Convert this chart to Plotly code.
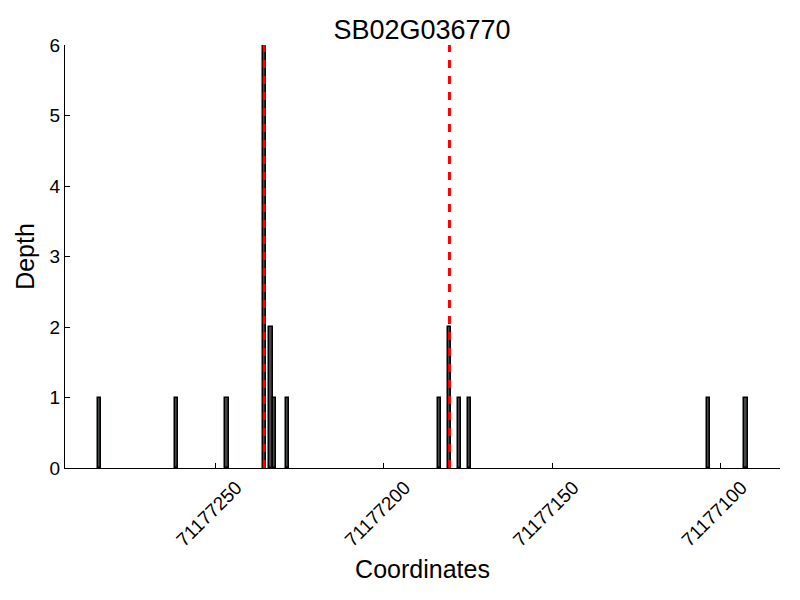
import plotly.graph_objects as go

title = "SB02G036770"
coords = [71177284, 71177261, 71177246, 71177235, 71177233, 71177232, 71177228,
          71177183, 71177180, 71177177, 71177174, 71177103, 71177092]
depth = [1, 1, 1, 6, 2, 1, 1, 1, 2, 1, 1, 1, 1]
marks = [71177235, 71177180]
bar_w = 1

fig = go.Figure()
fig.add_trace(go.Bar(
    x=coords, y=depth, width=bar_w, offset=0,
    marker=dict(color="#42474a", line=dict(color="black", width=1.5)),
    showlegend=False,
))
for m in marks:
    fig.add_shape(type="line", x0=m + bar_w / 2, x1=m + bar_w / 2, y0=0, y1=1,
                  xref="x", yref="paper",
                  line=dict(color="red", width=3, dash="8px,8px"))

lo, hi = min(coords), max(coords) + bar_w
pad = (hi - lo) * 0.05
fig.update_layout(
    width=800, height=600,
    margin=dict(l=65, r=20, t=45, b=132),
    plot_bgcolor="white", paper_bgcolor="white",
    font=dict(family="Liberation Sans, Arial, sans-serif", color="black", size=18),
    title=dict(text=title, x=0.5275, xanchor="center", y=0.95, yanchor="middle",
               font=dict(size=27)),
    bargap=0,
)
fig.update_xaxes(
    range=[hi + pad, lo - pad], dtick=50, tick0=71177100, tickformat="d",
    tickangle=-45, ticks="inside", ticklen=5, tickcolor="black",
    ticklabelshift=-21,
    showline=True, linecolor="black", linewidth=1, showgrid=False, zeroline=False,
    title=dict(text="Coordinates", font=dict(size=25), standoff=10),
    tickfont=dict(size=19), automargin=False,
)
fig.update_yaxes(
    range=[0, 6], dtick=1, ticks="inside", ticklen=5, tickcolor="black",
    showline=True, linecolor="black", linewidth=1, showgrid=False, zeroline=False,
    title=dict(text="Depth", font=dict(size=25), standoff=7),
    tickfont=dict(size=19), automargin=False,
)
fig.write_html("out.html", config={"displayModeBar": False},
               post_script="document.body.style.margin='0';")
